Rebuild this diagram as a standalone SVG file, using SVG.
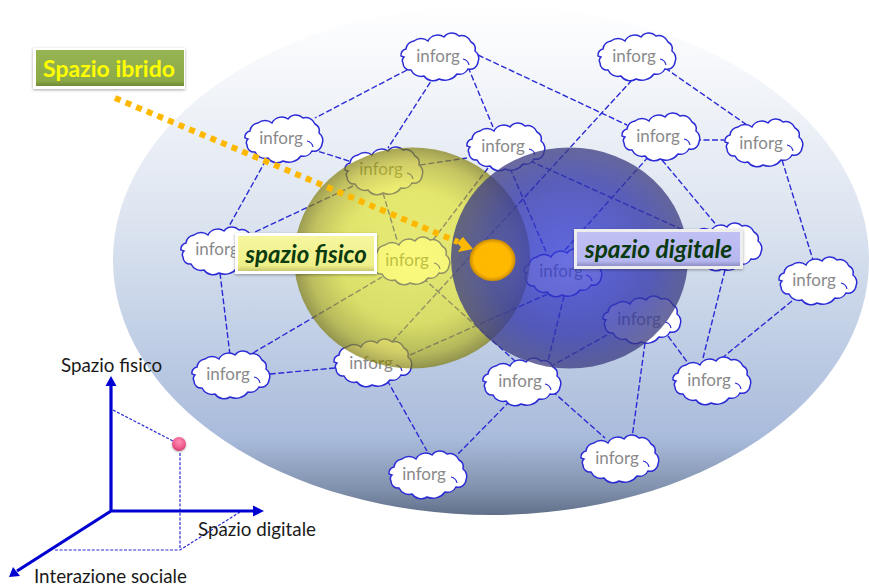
<svg xmlns="http://www.w3.org/2000/svg" xmlns:xlink="http://www.w3.org/1999/xlink" width="869" height="587" viewBox="0 0 869 587">
<style>
.link{fill:none;stroke:#2b2bd6;stroke-width:1.4;stroke-dasharray:6 2.5}
.thin{fill:none;stroke:#2b2bd6;stroke-width:1.2;stroke-dasharray:3 1.6}
.axis{fill:none;stroke:#0000d0;stroke-width:3.2}
.cl{fill:#fff;stroke:#2b2bd6;stroke-width:1.5}
.curl{fill:none;stroke:#2b2bd6;stroke-width:1.2}
.t{font-family:Lato,"Liberation Sans",sans-serif;font-size:17px;fill:#8a8a8a;text-anchor:middle}
.ax{font-family:Lato,"Liberation Sans",sans-serif;font-size:18.800px;fill:#1a1a1a}
.lab{font-family:Lato,"Liberation Sans",sans-serif;font-size:24px;font-weight:700}
.it{font-style:italic;fill:#0a3a10;text-anchor:middle}
</style>
<defs>
<linearGradient id="bg" x1="0" y1="0" x2="0" y2="1">
<stop offset="0" stop-color="#ffffff"/><stop offset=".4" stop-color="#dfe6f1"/><stop offset=".6" stop-color="#c7d4e8"/><stop offset=".85" stop-color="#a9bbdb"/><stop offset=".95" stop-color="#8091ad"/><stop offset="1" stop-color="#616f88"/>
</linearGradient>
<radialGradient id="yel"><stop offset="0" stop-color="#f5f500" stop-opacity=".5"/><stop offset=".6" stop-color="#e6e600" stop-opacity=".55"/><stop offset=".87" stop-color="#b0ac08" stop-opacity=".62"/><stop offset="1" stop-color="#7a7600" stop-opacity=".66"/></radialGradient>
<radialGradient id="blu"><stop offset="0" stop-color="#323ad6" stop-opacity=".72"/><stop offset=".3" stop-color="#3036c8" stop-opacity=".74"/><stop offset=".7" stop-color="#2e32a8" stop-opacity=".76"/><stop offset="1" stop-color="#3c3c80" stop-opacity=".76"/></radialGradient>
<radialGradient id="or"><stop offset="0" stop-color="#ffbb00"/><stop offset=".8" stop-color="#ffb800"/><stop offset="1" stop-color="#c88a08"/></radialGradient>
<radialGradient id="pk" cx=".5" cy=".35" r=".65"><stop offset="0" stop-color="#ff8fb4"/><stop offset=".7" stop-color="#ee5a8c"/><stop offset="1" stop-color="#c83c6c"/></radialGradient>
<linearGradient id="gg" x1="0" y1="0" x2="0" y2="1"><stop offset="0" stop-color="#96b452"/><stop offset=".85" stop-color="#8cab48"/><stop offset="1" stop-color="#6f8a34"/></linearGradient>
<linearGradient id="gy" x1="0" y1="0" x2="0" y2="1"><stop offset="0" stop-color="#f6f6a0"/><stop offset=".85" stop-color="#efef88"/><stop offset="1" stop-color="#c8c870"/></linearGradient>
<linearGradient id="gb" x1="0" y1="0" x2="0" y2="1"><stop offset="0" stop-color="#c0c0f4"/><stop offset=".85" stop-color="#b8b8f0"/><stop offset="1" stop-color="#8e8ec8"/></linearGradient>
<filter id="sh" x="-10%" y="-20%" width="120%" height="140%"><feDropShadow dx="0" dy="1" stdDeviation="1.5" flood-color="#000" flood-opacity=".35"/></filter>
<filter id="sf" x="-50%" y="-50%" width="200%" height="200%"><feDropShadow dx="0" dy="1" stdDeviation="1" flood-color="#000" flood-opacity=".3"/></filter>
<path id="cloud" d="M-38 0A6 6 0 0 1-33-7A9 9 0 0 1-25-15A11 11 0 0 1-11-15A11 11 0 0 1 5-19A10 10 0 0 1 20-20A10 10 0 0 1 32-14A8 8 0 0 1 36-5A9 9 0 0 1 39 6A8 8 0 0 1 29 13A10 10 0 0 1 18 18A15 15 0 0 1 0 23A11 11 0 0 1-15 20A11 11 0 0 1-28 14A7 7 0 0 1-36 7A5 5 0 0 1-35 1Z"/>
<path id="curl" d="M24 3Q29 4 30 9"/>
</defs>

<ellipse id="hybrid-field" cx="491" cy="260" rx="378" ry="255" fill="url(#bg)"/>

<g id="connectors">
<path class="link" d="M407 70L315 118M435 75L388 148M478 55L627 125M468 67L493 127M311 149L352 162M266 160L228 228M420 165L467 158M353 186L255 232M383 193L397 240M488 168L433 240M510 168L547 254M530 161L692 234M632 80L392 342M565 250L650 155M662 160L718 227M695 140L724 140M665 68L747 125M782 160L813 260M725 270L703 358M792 301L722 358M668 336L688 363M607 335L553 365M564 296L548 361M645 343L632 438M552 391L605 438M510 401L457 455M387 380L427 451M335 368L270 374M220 273L230 355M253 353L382 277M423 278L515 361M410 355L550 293"/>
</g>

<g id="n1"><use href="#cloud" x="439" y="56" class="cl"/><use href="#curl" x="439" y="56" class="curl"/><text class="t" x="438" y="62">inforg</text></g>
<g id="n2"><use href="#cloud" x="283" y="138" class="cl"/><use href="#curl" x="283" y="138" class="curl"/><text class="t" x="281" y="144">inforg</text></g>
<g id="n3"><use href="#cloud" x="383" y="170" class="cl"/><use href="#curl" x="383" y="170" class="curl"/><text class="t" x="381" y="175">inforg</text></g>
<g id="n4"><use href="#cloud" x="219" y="250" class="cl"/><use href="#curl" x="219" y="250" class="curl"/><text class="t" x="217" y="255">inforg</text></g>
<g id="n5"><use href="#cloud" x="410" y="260" class="cl"/><use href="#curl" x="410" y="260" class="curl"/><text class="t" x="407" y="266">inforg</text></g>
<g id="n6"><use href="#cloud" x="230" y="374" class="cl"/><use href="#curl" x="230" y="374" class="curl"/><text class="t" x="228" y="380">inforg</text></g>
<g id="n7"><use href="#cloud" x="372" y="362" class="cl"/><use href="#curl" x="372" y="362" class="curl"/><text class="t" x="371" y="369">inforg</text></g>
<g id="n8"><use href="#cloud" x="427" y="474" class="cl"/><use href="#curl" x="427" y="474" class="curl"/><text class="t" x="424" y="480">inforg</text></g>
<g id="n9"><use href="#cloud" x="521" y="381" class="cl"/><use href="#curl" x="521" y="381" class="curl"/><text class="t" x="520" y="387">inforg</text></g>
<g id="n10"><use href="#cloud" x="505" y="146" class="cl"/><use href="#curl" x="505" y="146" class="curl"/><text class="t" x="503" y="152">inforg</text></g>
<g id="n11"><use href="#cloud" x="636" y="56" class="cl"/><use href="#curl" x="636" y="56" class="curl"/><text class="t" x="634" y="62">inforg</text></g>
<g id="n12"><use href="#cloud" x="660" y="136" class="cl"/><use href="#curl" x="660" y="136" class="curl"/><text class="t" x="658" y="142">inforg</text></g>
<g id="n13"><use href="#cloud" x="763" y="142" class="cl"/><use href="#curl" x="763" y="142" class="curl"/><text class="t" x="761" y="149">inforg</text></g>
<g id="n14"><use href="#cloud" x="722" y="246" class="cl"/></g>
<g id="n15"><use href="#cloud" x="817" y="280" class="cl"/><use href="#curl" x="817" y="280" class="curl"/><text class="t" x="814" y="286">inforg</text></g>
<g id="n16"><use href="#cloud" x="562" y="272" class="cl"/><use href="#curl" x="562" y="272" class="curl"/><text class="t" x="561" y="277">inforg</text></g>
<g id="n17"><use href="#cloud" x="641" y="319" class="cl"/><use href="#curl" x="641" y="319" class="curl"/><text class="t" x="639" y="325">inforg</text></g>
<g id="n18"><use href="#cloud" x="711" y="380" class="cl"/><use href="#curl" x="711" y="380" class="curl"/><text class="t" x="709" y="386">inforg</text></g>
<g id="n19"><use href="#cloud" x="619" y="458" class="cl"/><use href="#curl" x="619" y="458" class="curl"/><text class="t" x="617" y="464">inforg</text></g>

<ellipse id="physical-sphere" cx="412" cy="258" rx="118" ry="110.500" fill="url(#yel)"/>
<ellipse id="digital-sphere" cx="569.500" cy="258" rx="118.500" ry="110.500" fill="url(#blu)"/>

<path id="hybrid-pointer" d="M115 98L458 242" fill="none" stroke="#ffb800" stroke-width="6" stroke-dasharray="6 5.500"/>
<path id="hybrid-pointer-head" d="M457 243L463 237L473 249L458 252L461 247Z" fill="#ffb800"/>
<ellipse id="hybrid-point" cx="492.500" cy="260" rx="23" ry="21" fill="url(#or)"/>

<g id="label-ibrido"><rect x="33" y="48" width="152" height="41" fill="#fff" filter="url(#sh)"/><rect x="36" y="50" width="148" height="36" fill="url(#gg)"/><text class="lab" x="109" y="77" text-anchor="middle" fill="#ffff00" style="font-size:23px">Spazio ibrido</text></g>
<g id="label-fisico"><rect x="235" y="233" width="142" height="41" fill="#fff" filter="url(#sh)"/><rect x="238" y="236" width="136" height="35" fill="url(#gy)"/><text class="lab it" x="306" y="263">spazio fisico</text></g>
<g id="label-digitale"><rect x="574" y="229" width="169" height="40" fill="#eee" filter="url(#sh)"/><rect x="577" y="232" width="163" height="34" fill="url(#gb)"/><text class="lab it" x="658.500" y="258" style="font-size:24.500px">spazio digitale</text></g>

<g id="axes">
<path class="thin" d="M113 410L173 441M180 453V550M55 550H180L240 512"/>
<path class="axis" d="M111 511V384M111 511H254M111 511L17 571"/>
<path d="M111 376L116.500 386H105.500Z" fill="#0000d0"/>
<path d="M264 511L253 505.500V516.500Z" fill="#0000d0"/>
<path d="M9 577L13 567L20 576Z" fill="#0000d0"/>
<circle cx="179" cy="444" r="7" fill="url(#pk)" filter="url(#sf)"/>
<text class="ax" x="61" y="372">Spazio fisico</text>
<text class="ax" x="198" y="536">Spazio digitale</text>
<text class="ax" x="34" y="583">Interazione sociale</text>
</g>
</svg>
